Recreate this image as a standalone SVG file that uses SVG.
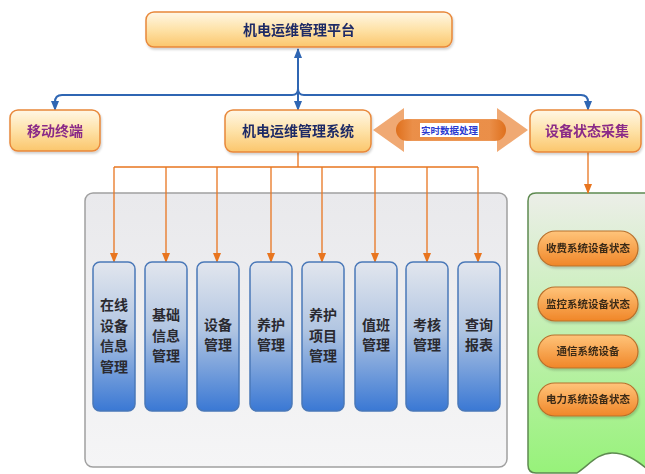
<svg xmlns="http://www.w3.org/2000/svg" width="645" height="474" viewBox="0 0 645 474">
<defs>
<linearGradient id="gOrange" x1="0" y1="0" x2="0" y2="1">
<stop offset="0" stop-color="#fff7e6"/><stop offset="0.5" stop-color="#fee2a8"/><stop offset="1" stop-color="#fbc66c"/>
</linearGradient>
<linearGradient id="gCol" x1="0" y1="0" x2="0" y2="1">
<stop offset="0" stop-color="#e2e6ee"/><stop offset="0.45" stop-color="#b2c6e2"/><stop offset="1" stop-color="#3a78d4"/>
</linearGradient>
<linearGradient id="gGray" x1="0" y1="0" x2="0" y2="1">
<stop offset="0" stop-color="#e9e9ec"/><stop offset="1" stop-color="#f5f5f6"/>
</linearGradient>
<linearGradient id="gGreen" x1="0" y1="0" x2="0" y2="1">
<stop offset="0" stop-color="#eceee8"/><stop offset="1" stop-color="#97f27a"/>
</linearGradient>
<linearGradient id="gPill" x1="0" y1="0" x2="0" y2="1">
<stop offset="0" stop-color="#ffc47a"/><stop offset="1" stop-color="#f08628"/>
</linearGradient>
<linearGradient id="gShaft" x1="0" y1="0" x2="1" y2="0">
<stop offset="0" stop-color="#dd6a14"/><stop offset="0.15" stop-color="#ea8c44"/><stop offset="0.85" stop-color="#ea8c44"/><stop offset="1" stop-color="#dd6a14"/>
</linearGradient>
<marker id="mBlue" markerWidth="10" markerHeight="10" refX="9" refY="5" orient="auto" markerUnits="userSpaceOnUse">
<path d="M0,1 L10,5 L0,9 Z" fill="#2f66b3"/>
</marker>
<marker id="mOr" markerWidth="10" markerHeight="10" refX="9" refY="5" orient="auto" markerUnits="userSpaceOnUse">
<path d="M0,1 L10,5 L0,9 Z" fill="#e8751f"/>
</marker>
<filter id="sh" x="-10%" y="-10%" width="120%" height="130%">
<feDropShadow dx="1" dy="2" stdDeviation="1.2" flood-color="#000" flood-opacity="0.18"/>
</filter>
</defs>
<style>
.ob{fill:url(#gOrange);stroke:#e8883a;stroke-width:1.5}
.col{fill:url(#gCol);stroke:#4a78b8;stroke-width:1.5}
.pill{fill:url(#gPill);stroke:#b8702c;stroke-width:1.2}
.t{font-family:"Noto Sans CJK SC","Noto Sans",sans-serif;font-weight:bold;text-anchor:middle}
.navy{fill:#1f2a66;font-size:14px}
.purp{fill:#8a2a88;font-size:14px}
.ct{fill:#2a2a30;font-size:14px}
.pt{fill:#3a2a18;font-size:10.5px}
.bl{fill:none;stroke:#2f66b3;stroke-width:2}
.or{fill:none;stroke:#e8751f;stroke-width:1.3}
</style>

<g id="containers">
<rect x="85" y="193" width="422" height="274" rx="8" fill="url(#gGray)" stroke="#a0a0a0" stroke-width="1.5"/>
<path d="M528,201 Q528,193 536,193 L646,193 L646,468 C636,460 626,453 612,453 C598,453 590,464 577,473 L536,473 Q528,473 528,465 Z" fill="url(#gGreen)" stroke="#5e8a50" stroke-width="1.5"/>
</g>

<g id="connectors">
<path class="bl" d="M298,95 L298,49" marker-end="url(#mBlue)"/>
<path class="bl" d="M292,95 L62,95 Q55,95 55,102 L55,110" marker-end="url(#mBlue)"/>
<path class="bl" d="M304,95 L581,95 Q588,95 588,102 L588,110" marker-end="url(#mBlue)"/>
<path class="bl" d="M292,95 Q298,95 298,89 Q298,95 304,95"/>
<path class="bl" d="M298,95 L298,110" marker-end="url(#mBlue)"/>
<path class="or" d="M298,152 L298,167 M114,167 L478,167"/>
<path class="or" d="M114,167 L114,262" marker-end="url(#mOr)"/>
<path class="or" d="M166,167 L166,262" marker-end="url(#mOr)"/>
<path class="or" d="M217,167 L217,262" marker-end="url(#mOr)"/>
<path class="or" d="M271,167 L271,262" marker-end="url(#mOr)"/>
<path class="or" d="M322,167 L322,262" marker-end="url(#mOr)"/>
<path class="or" d="M375,167 L375,262" marker-end="url(#mOr)"/>
<path class="or" d="M427,167 L427,262" marker-end="url(#mOr)"/>
<path class="or" d="M478,167 L478,262" marker-end="url(#mOr)"/>
<path class="or" d="M588,152 L588,193" marker-end="url(#mOr)"/>
</g>

<g id="dataArrow">
<path d="M373,130 L404,108 L404,120 L497,120 L497,108 L528,130 L497,152 L497,140 L404,140 L404,152 Z" fill="#ec9450" fill-opacity="0.8"/>
<rect x="396" y="119" width="110" height="22" rx="11" fill="url(#gShaft)" fill-opacity="0.9"/>
<rect x="420" y="123" width="59" height="14" fill="#ffffff"/>
<text class="t" x="449.5" y="134" style="font-size:9.5px;fill:#2a3ad0">实时数据处理</text>
</g>

<g id="platform" filter="url(#sh)">
<rect class="ob" x="146" y="12" width="306" height="35" rx="8"/>
<text class="t navy" x="299" y="35">机电运维管理平台</text>
</g>
<g id="mobile" filter="url(#sh)">
<rect class="ob" x="10" y="110" width="90" height="41" rx="8"/>
<text class="t purp" x="55" y="136">移动终端</text>
</g>
<g id="system" filter="url(#sh)">
<rect class="ob" x="225" y="110" width="146" height="42" rx="8"/>
<text class="t navy" x="298" y="136">机电运维管理系统</text>
</g>
<g id="collect" filter="url(#sh)">
<rect class="ob" x="530" y="110" width="111" height="42" rx="8"/>
<text class="t purp" x="587" y="136">设备状态采集</text>
</g>

<g id="col1"><rect class="col" x="93" y="262" width="42" height="149" rx="7"/>
<text class="t ct" x="114" y="310">在线</text><text class="t ct" x="114" y="331">设备</text><text class="t ct" x="114" y="351">信息</text><text class="t ct" x="114" y="372">管理</text></g>
<g id="col2"><rect class="col" x="145" y="262" width="42" height="149" rx="7"/>
<text class="t ct" x="166" y="320">基础</text><text class="t ct" x="166" y="341">信息</text><text class="t ct" x="166" y="361">管理</text></g>
<g id="col3"><rect class="col" x="197" y="262" width="42" height="149" rx="7"/>
<text class="t ct" x="218" y="330">设备</text><text class="t ct" x="218" y="350">管理</text></g>
<g id="col4"><rect class="col" x="250" y="262" width="42" height="149" rx="7"/>
<text class="t ct" x="271" y="330">养护</text><text class="t ct" x="271" y="350">管理</text></g>
<g id="col5"><rect class="col" x="302" y="262" width="42" height="149" rx="7"/>
<text class="t ct" x="323" y="320">养护</text><text class="t ct" x="323" y="341">项目</text><text class="t ct" x="323" y="361">管理</text></g>
<g id="col6"><rect class="col" x="355" y="262" width="42" height="149" rx="7"/>
<text class="t ct" x="376" y="330">值班</text><text class="t ct" x="376" y="350">管理</text></g>
<g id="col7"><rect class="col" x="406" y="262" width="42" height="149" rx="7"/>
<text class="t ct" x="427" y="330">考核</text><text class="t ct" x="427" y="350">管理</text></g>
<g id="col8"><rect class="col" x="458" y="262" width="42" height="149" rx="7"/>
<text class="t ct" x="479" y="330">查询</text><text class="t ct" x="479" y="350">报表</text></g>

<g id="pill1" filter="url(#sh)"><rect class="pill" x="538" y="231" width="100" height="35" rx="17.5"/><text class="t pt" x="588" y="252">收费系统设备状态</text></g>
<g id="pill2" filter="url(#sh)"><rect class="pill" x="538" y="287" width="100" height="34" rx="17"/><text class="t pt" x="588" y="308">监控系统设备状态</text></g>
<g id="pill3" filter="url(#sh)"><rect class="pill" x="538" y="335" width="100" height="33" rx="16.5"/><text class="t pt" x="588" y="355">通信系统设备</text></g>
<g id="pill4" filter="url(#sh)"><rect class="pill" x="538" y="383" width="100" height="33" rx="16.5"/><text class="t pt" x="588" y="403">电力系统设备状态</text></g>
</svg>
